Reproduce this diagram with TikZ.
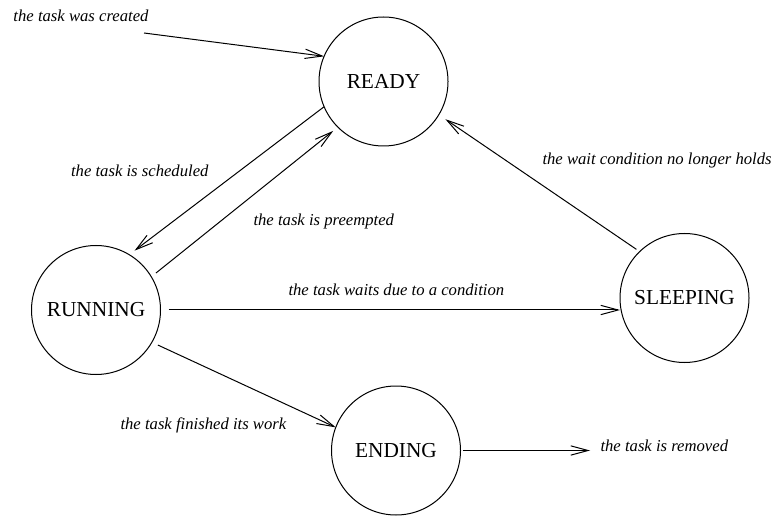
\documentclass[tikz,border=0pt]{standalone}
\usepackage{fontspec}
\setmainfont{Liberation Serif}
\usetikzlibrary{arrows.meta}

\tikzset{every picture/.style={line width=0.75pt}}
\tikzset{
  state/.style={draw, circle, minimum size=96.75pt, inner sep=0pt, outer sep=0pt, font=\fontsize{16}{19}\selectfont},
  event/.style={inner sep=0pt, font=\itshape\fontsize{12.5}{15}\selectfont},
  trans/.style={-{Straight Barb[length=13pt,width=7pt]}},
}

\begin{document}
\begin{tikzpicture}[x=0.75pt,y=0.75pt,yscale=-1,xscale=1]
\useasboundingbox (0,0) rectangle (774,516);

%Shape: Circle
\node [state] (ready) at (383.5,81.5) {READY};
%Shape: Circle
\node [state] (running) at (96,310) {RUNNING};
%Shape: Circle
\node [state] (sleeping) at (684.5,298) {SLEEPING};
%Shape: Circle
\node [state] (ending) at (396,450.5) {ENDING};

\coordinate (created) at (144,33);
\coordinate (removed) at (590,450.5);

%Straight Lines
\draw [trans] (created) -- (ready.157.6);
\draw [trans, shorten >=5pt] (ready.203.7) -- (running.59);
\draw [trans, shorten <=4.5pt, shorten >=4.5pt] (running.31.3) -- (ready.225.6);
\draw [trans, shorten <=3pt, shorten >=6pt] (sleeping.134) -- (ready.329);
\draw [trans, shorten <=6pt] (running.east) -- (running.east -| sleeping.west);
\draw [trans, shorten <=5pt] (running.-30.9) -- (ending.159.7);
\draw [trans, shorten <=1.5pt] (ending.east) -- (removed);

% Text Node
\node [event, anchor=base west] (lblcreated) at (13,22) {the task was created};
\node [event, anchor=base east] (lblsched) at (209,177) {the task is scheduled};
\node [event, anchor=base west] (lblpreempt) at (253,226) {the task is preempted};
\node [event, anchor=base west] (lblwake) at (542,165) {the wait condition no longer holds};
\node [event, anchor=base west] (lblwait) at (288,296) {the task waits due to a condition};
\node [event, anchor=base west] (lblfinish) at (120,429) {the task finished its work};
\node [event, anchor=base west] (lblremoved) at (600,451) {the task is removed};

\end{tikzpicture}
\end{document}
